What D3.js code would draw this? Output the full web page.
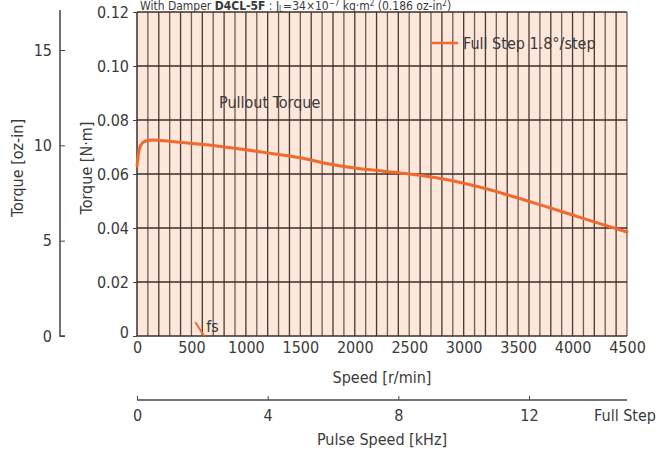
<!DOCTYPE html>
<html>
<head>
<meta charset="utf-8">
<style>
body { margin: 0; background: #fff; }
svg text { font-family: "Liberation Sans Narrow", "DejaVu Sans Condensed", "Arial Narrow", sans-serif; fill: #3a3a3a; }
.axis path, .axis line { fill: none; stroke: #444; }
</style>
</head>
<body>
<script src="https://cdn.jsdelivr.net/npm/d3@7"></script>
<script>
// speed [r/min] and pullout torque [N·m]
const speed  = [0, 20, 50, 100, 150, 250, 500, 750, 1000, 1250, 1500, 1750, 2000, 2250, 2500, 2750, 3000, 3250, 3500, 3750, 4000, 4250, 4500];
const torque = [0.063, 0.069, 0.0715, 0.0724, 0.0726, 0.0723, 0.0713, 0.0703, 0.0690, 0.0675, 0.0660, 0.0638, 0.0622, 0.0611, 0.0600, 0.0586, 0.0566, 0.0541, 0.0511, 0.0480, 0.0448, 0.0416, 0.0385];

const nmTicks   = [0, 0.02, 0.04, 0.06, 0.08, 0.10, 0.12];
const ozTicks   = [0, 5, 10, 15];
const rpmTicks  = [0, 500, 1000, 1500, 2000, 2500, 3000, 3500, 4000, 4500];
const khzTicks  = [0, 4, 8, 12];
const fsSpeed   = 580;   // starting pulse speed marker
const NM_TO_OZIN = 141.612;

const W = 660, H = 455;
const svg = d3.select("body").append("svg").attr("width", W).attr("height", H);

const x = d3.scaleLinear().domain([0, 4500]).range([137, 627]);
const y = d3.scaleLinear().domain([0, 0.12]).range([336, 12]);
const yOz = d3.scaleLinear().domain([0, 0.12 * NM_TO_OZIN]).range([336, 12]);
const xK = d3.scaleLinear().domain([0, 15]).range([137, 627]);

// title line above the plot
const title = svg.append("text").attr("x", 140).attr("y", 10).attr("font-size", 12);
title.append("tspan").text("With Damper ");
title.append("tspan").attr("font-weight", "bold").text("D4CL-5F");
title.append("tspan").text(" : J");
title.append("tspan").attr("font-size", 8).attr("dy", 2).text("L");
title.append("tspan").attr("dy", -2).text("=34×10");
title.append("tspan").attr("font-size", 8).attr("dy", -4).text("−7");
title.append("tspan").attr("dy", 4).text(" kg·m");
title.append("tspan").attr("font-size", 8).attr("dy", -4).text("2");
title.append("tspan").attr("dy", 4).text(" (0.186 oz-in");
title.append("tspan").attr("font-size", 8).attr("dy", -4).text("2");
title.append("tspan").attr("dy", 4).text(")");

// plot background
svg.append("rect")
    .attr("x", x(0)).attr("y", y(0.12))
    .attr("width", x(4500) - x(0)).attr("height", y(0) - y(0.12))
    .attr("fill", "#fde6da");

// vertical grid every 100 r/min
svg.append("g").selectAll("line")
    .data(d3.range(100, 4501, 100))
    .enter().append("line")
    .attr("x1", d => x(d)).attr("x2", d => x(d))
    .attr("y1", y(0.12)).attr("y2", y(0))
    .attr("stroke", "#3e302b")
    .attr("stroke-width", 1.3)
    .attr("opacity", (d, i) => i % 2 ? 0.95 : 0.75);

// horizontal grid
svg.append("g").selectAll("line")
    .data(nmTicks)
    .enter().append("line")
    .attr("x1", x(0)).attr("x2", x(4500))
    .attr("y1", d => y(d)).attr("y2", d => y(d))
    .attr("stroke", "#3b2e29")
    .attr("stroke-width", 1.5);

svg.append("line")
    .attr("x1", x(0)).attr("x2", x(0))
    .attr("y1", y(0.12)).attr("y2", y(0))
    .attr("stroke", "#3b2e29").attr("stroke-width", 1.5);

// N·m axis
const gy = svg.append("g").attr("class", "axis")
    .attr("transform", `translate(${x(0)},0)`)
    .call(d3.axisLeft(y).tickValues(nmTicks).tickSize(4).tickPadding(4)
        .tickFormat(d => d === 0 ? "0" : d3.format(".2f")(d)));
gy.select(".domain").remove();
gy.selectAll("text").attr("font-size", 16).style("font-family", null);
gy.selectAll("text").filter(d => d === 0).attr("dy", "0.1em");

svg.append("text")
    .attr("transform", `translate(92,${(y(0.12) + y(0)) / 2 - 6}) rotate(-90)`)
    .attr("text-anchor", "middle").attr("font-size", 16)
    .text("Torque [N·m]");

// oz-in axis
const gz = svg.append("g").attr("class", "axis")
    .attr("transform", "translate(60,0)")
    .call(d3.axisRight(yOz).tickValues(ozTicks).tickSize(5).tickFormat(d3.format("d")));
gz.select(".domain").attr("d", `M0,${y(0.12) - 2}V${y(0)}H5`).attr("stroke", "#888").attr("stroke-width", 1.5);
gz.selectAll(".tick line").attr("stroke", "#888");
gz.selectAll("text").attr("x", -8).attr("text-anchor", "end").attr("font-size", 16).style("font-family", null);

svg.append("text")
    .attr("transform", `translate(23,${(y(0.12) + y(0)) / 2 - 6}) rotate(-90)`)
    .attr("text-anchor", "middle").attr("font-size", 16)
    .text("Torque [oz-in]");

// speed axis labels
const gx = svg.append("g").attr("class", "axis")
    .attr("transform", `translate(0,${y(0)})`)
    .call(d3.axisBottom(x).tickValues(rpmTicks).tickSize(0).tickPadding(6).tickFormat(d3.format("d")));
gx.select(".domain").remove();
gx.selectAll("text").attr("font-size", 16).style("font-family", null);

svg.append("text")
    .attr("x", (x(0) + x(4500)) / 2).attr("y", 383)
    .attr("text-anchor", "middle").attr("font-size", 16)
    .text("Speed [r/min]");

// pulse speed axis
const gk = svg.append("g").attr("class", "axis")
    .attr("transform", "translate(0,400)")
    .call(d3.axisTop(xK).tickValues(khzTicks).tickSize(4).tickFormat(d3.format("d")));
gk.select(".domain").attr("d", `M${xK(0)},0H${xK(15)}`).attr("stroke", "#666").attr("stroke-width", 1.5);
gk.selectAll(".tick line").attr("stroke", "#666");
gk.selectAll("text").attr("y", 10).attr("dy", "0.71em").attr("font-size", 16).style("font-family", null);

svg.append("text")
    .attr("x", 656).attr("y", 421)
    .attr("text-anchor", "end").attr("font-size", 16)
    .text("Full Step");

svg.append("text")
    .attr("x", (x(0) + x(4500)) / 2).attr("y", 445)
    .attr("text-anchor", "middle").attr("font-size", 16)
    .text("Pulse Speed [kHz]");

// pullout torque curve
const pts = speed.map((s, i) => ({s: s, t: torque[i]}));
const line = d3.line()
    .curve(d3.curveMonotoneX)
    .x(d => x(d.s))
    .y(d => y(d.t));

svg.append("path")
    .datum(pts)
    .attr("fill", "none")
    .attr("stroke", "#ef6a2c")
    .attr("stroke-width", 3)
    .attr("stroke-linecap", "round")
    .attr("d", line);

svg.append("text")
    .attr("x", 219).attr("y", 108)
    .attr("font-size", 16)
    .text("Pullout Torque");

// fs marker
svg.append("line")
    .attr("x1", x(fsSpeed) - 5).attr("y1", y(0) - 14)
    .attr("x2", x(fsSpeed) + 4).attr("y2", y(0))
    .attr("stroke", "#ef6a2c").attr("stroke-width", 2);
svg.append("text")
    .attr("x", x(fsSpeed) + 6).attr("y", y(0) - 4)
    .attr("font-size", 16)
    .text("fs");

// legend
svg.append("line")
    .attr("x1", 432).attr("x2", 458)
    .attr("y1", 43).attr("y2", 43)
    .attr("stroke", "#ef6a2c").attr("stroke-width", 2.5);
svg.append("text")
    .attr("x", 463).attr("y", 49)
    .attr("font-size", 16)
    .text("Full Step 1.8°/step");
</script>
</body>
</html>
